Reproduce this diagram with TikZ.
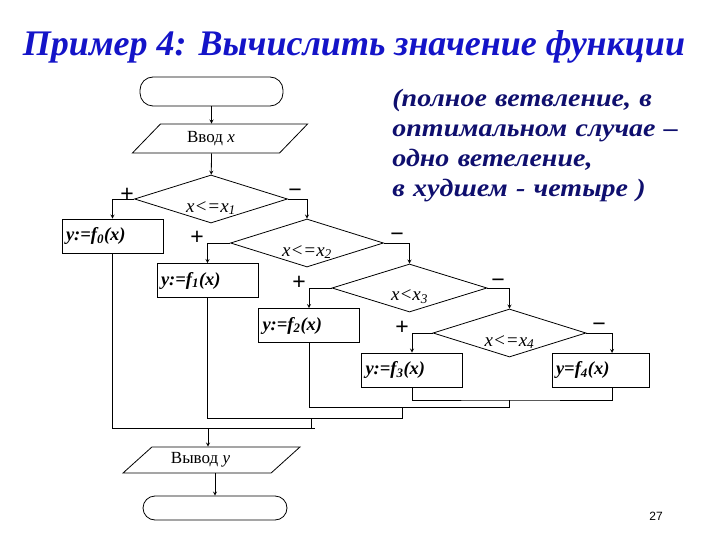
\documentclass[tikz,border=0pt]{standalone}
\usepackage{fontspec}
\setmainfont{Liberation Serif}
\newfontfamily\signfont{Liberation Sans}
\newfontfamily\notefont[FakeStretch=1.12]{Liberation Serif}
\usetikzlibrary{shapes.geometric}
\definecolor{titleblue}{RGB}{20,20,200}
\definecolor{notenavy}{RGB}{15,15,110}
\newcommand{\iv}[1]{\textit{#1}}

\begin{document}
\begin{tikzpicture}[x=1pt,y=-1pt,line width=0.8pt,>=stealth,
  term/.style={draw,rounded corners=13pt,minimum width=143pt,minimum height=29pt},
  io/.style={draw,trapezium,trapezium stretches=true,inner sep=0pt,font=\fontsize{17}{17}\selectfont},
  cond/.style={draw,diamond,inner sep=0pt,minimum width=153pt,minimum height=48pt},
  condtext/.style={yshift=-9pt,font=\fontsize{19}{19}\selectfont\itshape},
  act/.style={draw,rectangle,minimum height=34pt,inner xsep=4pt,text width=93pt,align=left,font=\fontsize{18.5}{18.5}\selectfont\bfseries\itshape},
  pm/.style={font=\signfont\fontsize{23}{23}\selectfont}]
  \useasboundingbox (0,0) rectangle (720,540);
  \node[font=\fontsize{36}{36}\selectfont\bfseries\itshape,text=titleblue,anchor=base] (title) at (354,56) {Пример 4: Вычислить значение функции};
  \node[anchor=base west,inner sep=0pt,text width=300pt,align=left,text=notenavy,font=\notefont\fontsize{25}{30}\selectfont\bfseries\itshape] (note) at (392,107) {(полное ветвление, в\\оптимальном случае –\\одно ветеление,\\в худшем - четыре )};

  \node[term] (start) at (211.5,91.5) {};
  \node[io,trapezium left angle=43,trapezium right angle=137,minimum width=176pt,minimum height=29pt] (inp) at (220,138.5) {Ввод \iv{x}\kern18pt};
  \node[cond,label={[condtext]center:x<=x\textsubscript{1}}] (d1) at (211,199) {};
  \node[cond,label={[condtext]center:x<=x\textsubscript{2}}] (d2) at (307,243) {};
  \node[cond,minimum width=155pt,label={[condtext]center:x<x\textsubscript{3}}] (d3) at (409.5,288) {};
  \node[cond,label={[condtext]center:x<=x\textsubscript{4}}] (d4) at (509.5,333) {};
  \node[act] (f0) at (112.5,236) {y:=f\textsubscript{0}(x)};
  \node[act] (f1) at (207.5,280.5) {y:=f\textsubscript{1}(x)};
  \node[act] (f2) at (309,325.5) {y:=f\textsubscript{2}(x)};
  \node[act] (f3) at (412,370) {y:=f\textsubscript{3}(x)};
  \node[act,text width=89pt] (f4) at (600.5,370) {y=f\textsubscript{4}(x)};
  \node[io,trapezium left angle=37,trapezium right angle=143,minimum width=177pt,minimum height=26pt] (outp) at (211.5,460) {Вывод \iv{y}\kern22pt};
  \node[term,minimum width=144pt,minimum height=24pt,rounded corners=12pt] (stop) at (215,508) {};

  \node[pm] (p1) at (127,195) {+};
  \node[pm] (m1) at (295,193) {−};
  \node[pm] (p2) at (197,238) {+};
  \node[pm] (m2) at (397,237) {−};
  \node[pm] (p3) at (299,283) {+};
  \node[pm] (m3) at (498,283) {−};
  \node[pm] (p4) at (402,328) {+};
  \node[pm] (m4) at (599,327) {−};
  \node[font=\signfont\fontsize{12}{12}\selectfont] (page) at (656,516) {27};

  \coordinate (c4) at (612,353);
  \coordinate (e4) at (612,387);
  \coordinate (j4) at (509,400);
  \coordinate (j3) at (509,407);
  \coordinate (k3) at (402,407);
  \coordinate (k2) at (402,418);
  \coordinate (j2) at (311,418);
  \coordinate (j1) at (311,428);
  \coordinate (j0) at (315,428);
  \coordinate (jin) at (208,428);

  \draw[->] (start) -- (start |- inp.north);
  \draw[->] (start |- inp.south) -- (d1);
  \draw[->] (d1.west) -| (f0.north);
  \draw[->] (d1.east) -| (d2.north);
  \draw[->] (d2.west) -| (f1.north);
  \draw[->] (d2.east) -| (d3.north);
  \draw[->] (d3.west) -| (f2.north);
  \draw[->] (d3.east) -| (d4.north);
  \draw[->] (d4.west) -| (f3.north);
  \draw[->] (d4.east) -| (c4);

  \draw (f3.south) |- (j4) -| (e4);
  \draw (f2.south) |- (j3) -- (j4);
  \draw (f1.south) |- (k2) -- (k3);
  \draw (f0.south) |- (j0);
  \draw (j2) -- (j1);
  \draw[->] (jin) -- (jin |- outp.north);
  \draw[->] (outp.south -| stop.north) -- (stop);
\end{tikzpicture}
\end{document}
